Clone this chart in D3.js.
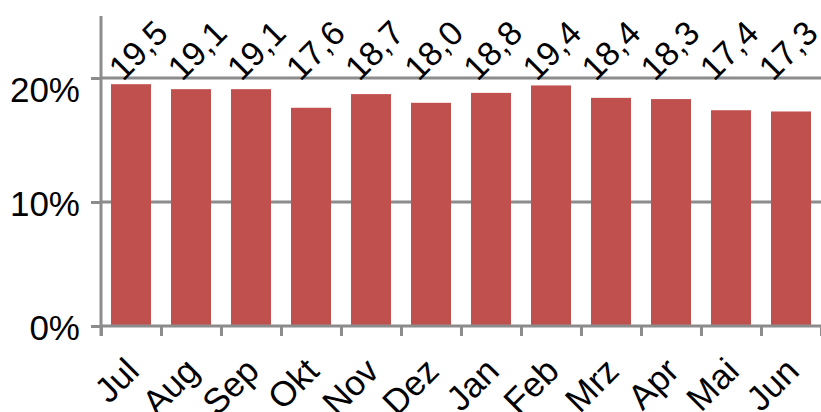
<!DOCTYPE html>
<html>
<head>
<meta charset="utf-8">
<script src="https://cdn.jsdelivr.net/npm/d3@7"></script>
<style>
  html, body { margin: 0; padding: 0; background: #fff; }
  svg { display: block; font-family: "Liberation Sans", Arial, sans-serif; }
</style>
</head>
<body>
<svg id="chart" width="821" height="412"></svg>
<script>
// Monthly share, Jul–Jun
const months = ["Jul", "Aug", "Sep", "Okt", "Nov", "Dez", "Jan", "Feb", "Mrz", "Apr", "Mai", "Jun"];
const values = [19.5, 19.1, 19.1, 17.6, 18.7, 18.0, 18.8, 19.4, 18.4, 18.3, 17.4, 17.3];
const yTicks = [0, 10, 20];

const plotLeft = 101, plotRight = 821, plotTop = 16, plotBottom = 326;
const axisColor = "#8c8c8c";
const barColor = "#c0504d";

const svg = d3.select("#chart");

const x = d3.scaleBand()
  .domain(months)
  .range([plotLeft, plotRight])
  .paddingInner(1 / 3)
  .paddingOuter(1 / 6);
const center = m => x(m) + x.bandwidth() / 2;

const y = d3.scaleLinear().domain([0, 25]).range([plotBottom, plotTop]);

// Boundary ticks between categories
const xb = d3.scaleLinear().domain([0, months.length]).range([plotLeft, plotRight]);

// Value-label row: slightly tighter spacing so the last label stays inside the frame
const xLabel = d3.scalePoint()
  .domain(months)
  .range([center(months[0]) - 8, center(months[months.length - 1]) - 18]);

// Horizontal gridlines
svg.append("g")
  .selectAll("line")
  .data(yTicks.filter(d => d > 0))
  .join("line")
  .attr("x1", plotLeft).attr("x2", plotRight)
  .attr("y1", d => y(d)).attr("y2", d => y(d))
  .attr("stroke", axisColor).attr("stroke-width", 3);

// Bars
svg.append("g")
  .selectAll("rect")
  .data(values)
  .join("rect")
  .attr("x", (d, i) => x(months[i]))
  .attr("width", x.bandwidth())
  .attr("y", d => y(d))
  .attr("height", d => y(0) - y(d))
  .attr("fill", barColor);

// Y axis
const yAxis = svg.append("g")
  .attr("transform", `translate(${plotLeft},0)`)
  .call(d3.axisLeft(y).tickValues(yTicks).tickFormat(d => d + "%").tickSize(10).tickPadding(11));
yAxis.select(".domain").attr("d", `M0,${plotTop}V${plotBottom + 10}`);
yAxis.selectAll("path, line").attr("stroke", axisColor).attr("stroke-width", 3);
yAxis.selectAll("text")
  .attr("font-size", 35)
  .attr("fill", "#000")
  .attr("dy", d => d === 20 ? "0.66em" : "0.38em");

// X axis with ticks at category boundaries
const xAxis = svg.append("g")
  .attr("transform", `translate(0,${plotBottom})`)
  .call(d3.axisBottom(xb).tickValues(d3.range(months.length + 1)).tickFormat("").tickSize(10).tickSizeOuter(0));
xAxis.selectAll("path, line").attr("stroke", axisColor).attr("stroke-width", 3);
xAxis.select(".domain").attr("d", `M${plotLeft},0H${plotRight}`);

// Category labels
svg.append("g")
  .selectAll("text")
  .data(months)
  .join("text")
  .attr("transform", d => `translate(${center(d) + 10},373) rotate(-45)`)
  .attr("text-anchor", "end")
  .attr("font-size", 35)
  .attr("fill", "#000")
  .text(d => d);

// Value labels
svg.append("g")
  .selectAll("text")
  .data(values)
  .join("text")
  .attr("transform", (d, i) => `translate(${xLabel(months[i])},82) rotate(-45)`)
  .attr("text-anchor", "start")
  .attr("font-size", 34)
  .attr("fill", "#000")
  .text(d => d.toFixed(1).replace(".", ","));
</script>
</body>
</html>
